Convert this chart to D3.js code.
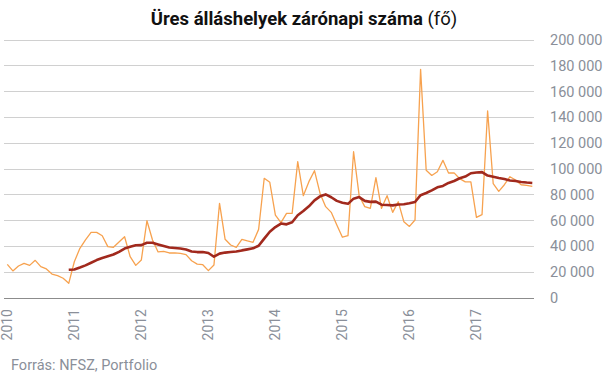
<!DOCTYPE html>
<html>
<head>
<meta charset="utf-8">
<script src="https://cdn.jsdelivr.net/npm/d3@7"></script>
<style>
  html, body { margin: 0; padding: 0; background: #fff; }
  svg { display: block; font-family: Roboto, "Noto Sans", sans-serif; }
</style>
</head>
<body>
<svg id="chart" width="605" height="378"></svg>
<script>
// ---- data ----
const startYear = 2010;
const yearLabels = ["2010", "2011", "2012", "2013", "2014", "2015", "2016", "2017"];
const yTicks = [0, 20000, 40000, 60000, 80000, 100000, 120000, 140000, 160000, 180000, 200000];
// monthly vacancies, Jan 2010 .. Nov 2017
const vacancies = [
  26100, 21000, 24800, 26900, 25300, 29200, 24300, 22500, 18600, 17300, 15300, 11400,
  28100, 38500, 45000, 50900, 50900, 48300, 39800, 39300, 43400, 47500, 32000, 25300,
  29500, 59900, 45000, 35700, 36200, 34900, 35000, 34600, 33600, 28900, 26300, 25800,
  21200, 25600, 73400, 45500, 41100, 39300, 45500, 44200, 43200, 53200, 92800, 89700,
  64300, 58400, 65600, 65600, 105700, 79300, 90200, 98700, 81100, 70800, 66400, 56600,
  47100, 48300, 113400, 79300, 70800, 69500, 93300, 69500, 79300, 66400, 74600, 59200,
  55500, 60500, 177300, 99000, 95000, 97900, 106700, 96900, 97000, 92500, 90000, 90000,
  62500, 64600, 145000, 88700, 82700, 87800, 94000, 91500, 87800, 87300, 86500
];
// 12-month average (dark line), starts Dec 2010
const avg12 = [
  null, null, null, null, null, null, null, null, null, null, null, 21900,
  22100, 23600, 25300, 27300, 29400, 31000, 32300, 33700, 35800, 38300, 39700, 40900,
  41000, 42800, 42800, 41500, 40300, 39200, 38800, 38400, 37600, 36000, 35600, 35600,
  34900, 32000, 34400, 35200, 35600, 36000, 36900, 37700, 38500, 40500, 46000, 51400,
  55000, 57700, 57100, 58700, 64100, 67400, 71100, 75700, 78800, 80300, 78100, 75300,
  73900, 73000, 77000, 78200, 75300, 74500, 74700, 72300, 72100, 71800, 72500, 72700,
  73400, 74400, 79700, 81400, 83400, 85800, 86900, 89200, 90700, 92800, 94100, 96700,
  97300, 97600, 94900, 94000, 93000, 92200, 91100, 90700, 89900, 89500, 89200
];

// ---- layout ----
const svg = d3.select("#chart");
const plotLeft = 4, plotRight = 534, plotTop = 40, plotBottom = 298;

const x = d3.scaleLinear().domain([0, vacancies.length - 1]).range([7.3, 532.3]);
const y = d3.scaleLinear().domain([0, 200000]).range([plotBottom, plotTop]);

const fmt = v => d3.format(",")(v).replace(/,/g, " ");

// gridlines
svg.append("g").selectAll("line")
  .data(yTicks.filter(d => d > 0))
  .join("line")
  .attr("x1", plotLeft).attr("x2", plotRight)
  .attr("y1", d => y(d)).attr("y2", d => y(d))
  .attr("stroke", "#d0d0d0").attr("stroke-width", 1)
  .attr("shape-rendering", "crispEdges");

// baseline
svg.append("line")
  .attr("x1", plotLeft).attr("x2", plotRight)
  .attr("y1", y(0)).attr("y2", y(0))
  .attr("stroke", "#8c8c8c").attr("stroke-width", 1)
  .attr("shape-rendering", "crispEdges");

// y axis labels (right)
svg.append("g").selectAll("text")
  .data(yTicks)
  .join("text")
  .attr("x", 550)
  .attr("y", d => y(d))
  .attr("dy", "0.35em")
  .attr("fill", "#8a8f99")
  .attr("font-size", 14.5)
  .text(d => fmt(d));

// x axis labels (rotated)
svg.append("g").selectAll("text")
  .data(yearLabels)
  .join("text")
  .attr("transform", (d, i) => `translate(${x(i * 12)},309) rotate(-90)`)
  .attr("text-anchor", "end")
  .attr("dy", "0.35em")
  .attr("fill", "#8a8f99")
  .attr("font-size", 14)
  .text(d => d);

// lines
const lineV = d3.line().x((d, i) => x(i)).y(d => y(d));
svg.append("path")
  .datum(vacancies)
  .attr("d", lineV)
  .attr("fill", "none")
  .attr("stroke", "#f7a24f")
  .attr("stroke-width", 1.3)
  .attr("stroke-linejoin", "round");

const lineA = d3.line().defined(d => d != null).x((d, i) => x(i)).y(d => y(d));
svg.append("path")
  .datum(avg12)
  .attr("d", lineA)
  .attr("fill", "none")
  .attr("stroke", "#a1291d")
  .attr("stroke-width", 2.6)
  .attr("stroke-linejoin", "round");

// title
const title = svg.append("text")
  .attr("x", 304).attr("y", 25)
  .attr("text-anchor", "middle")
  .attr("font-size", 18.5)
  .attr("fill", "#111");
title.append("tspan").attr("font-weight", "bold").text("Üres álláshelyek zárónapi száma");
title.append("tspan").attr("font-weight", "normal").text(" (fő)");

// footer
svg.append("text")
  .attr("x", 11).attr("y", 370)
  .attr("font-size", 14.5)
  .attr("fill", "#8a8f99")
  .text("Forrás: NFSZ, Portfolio");
</script>
</body>
</html>
